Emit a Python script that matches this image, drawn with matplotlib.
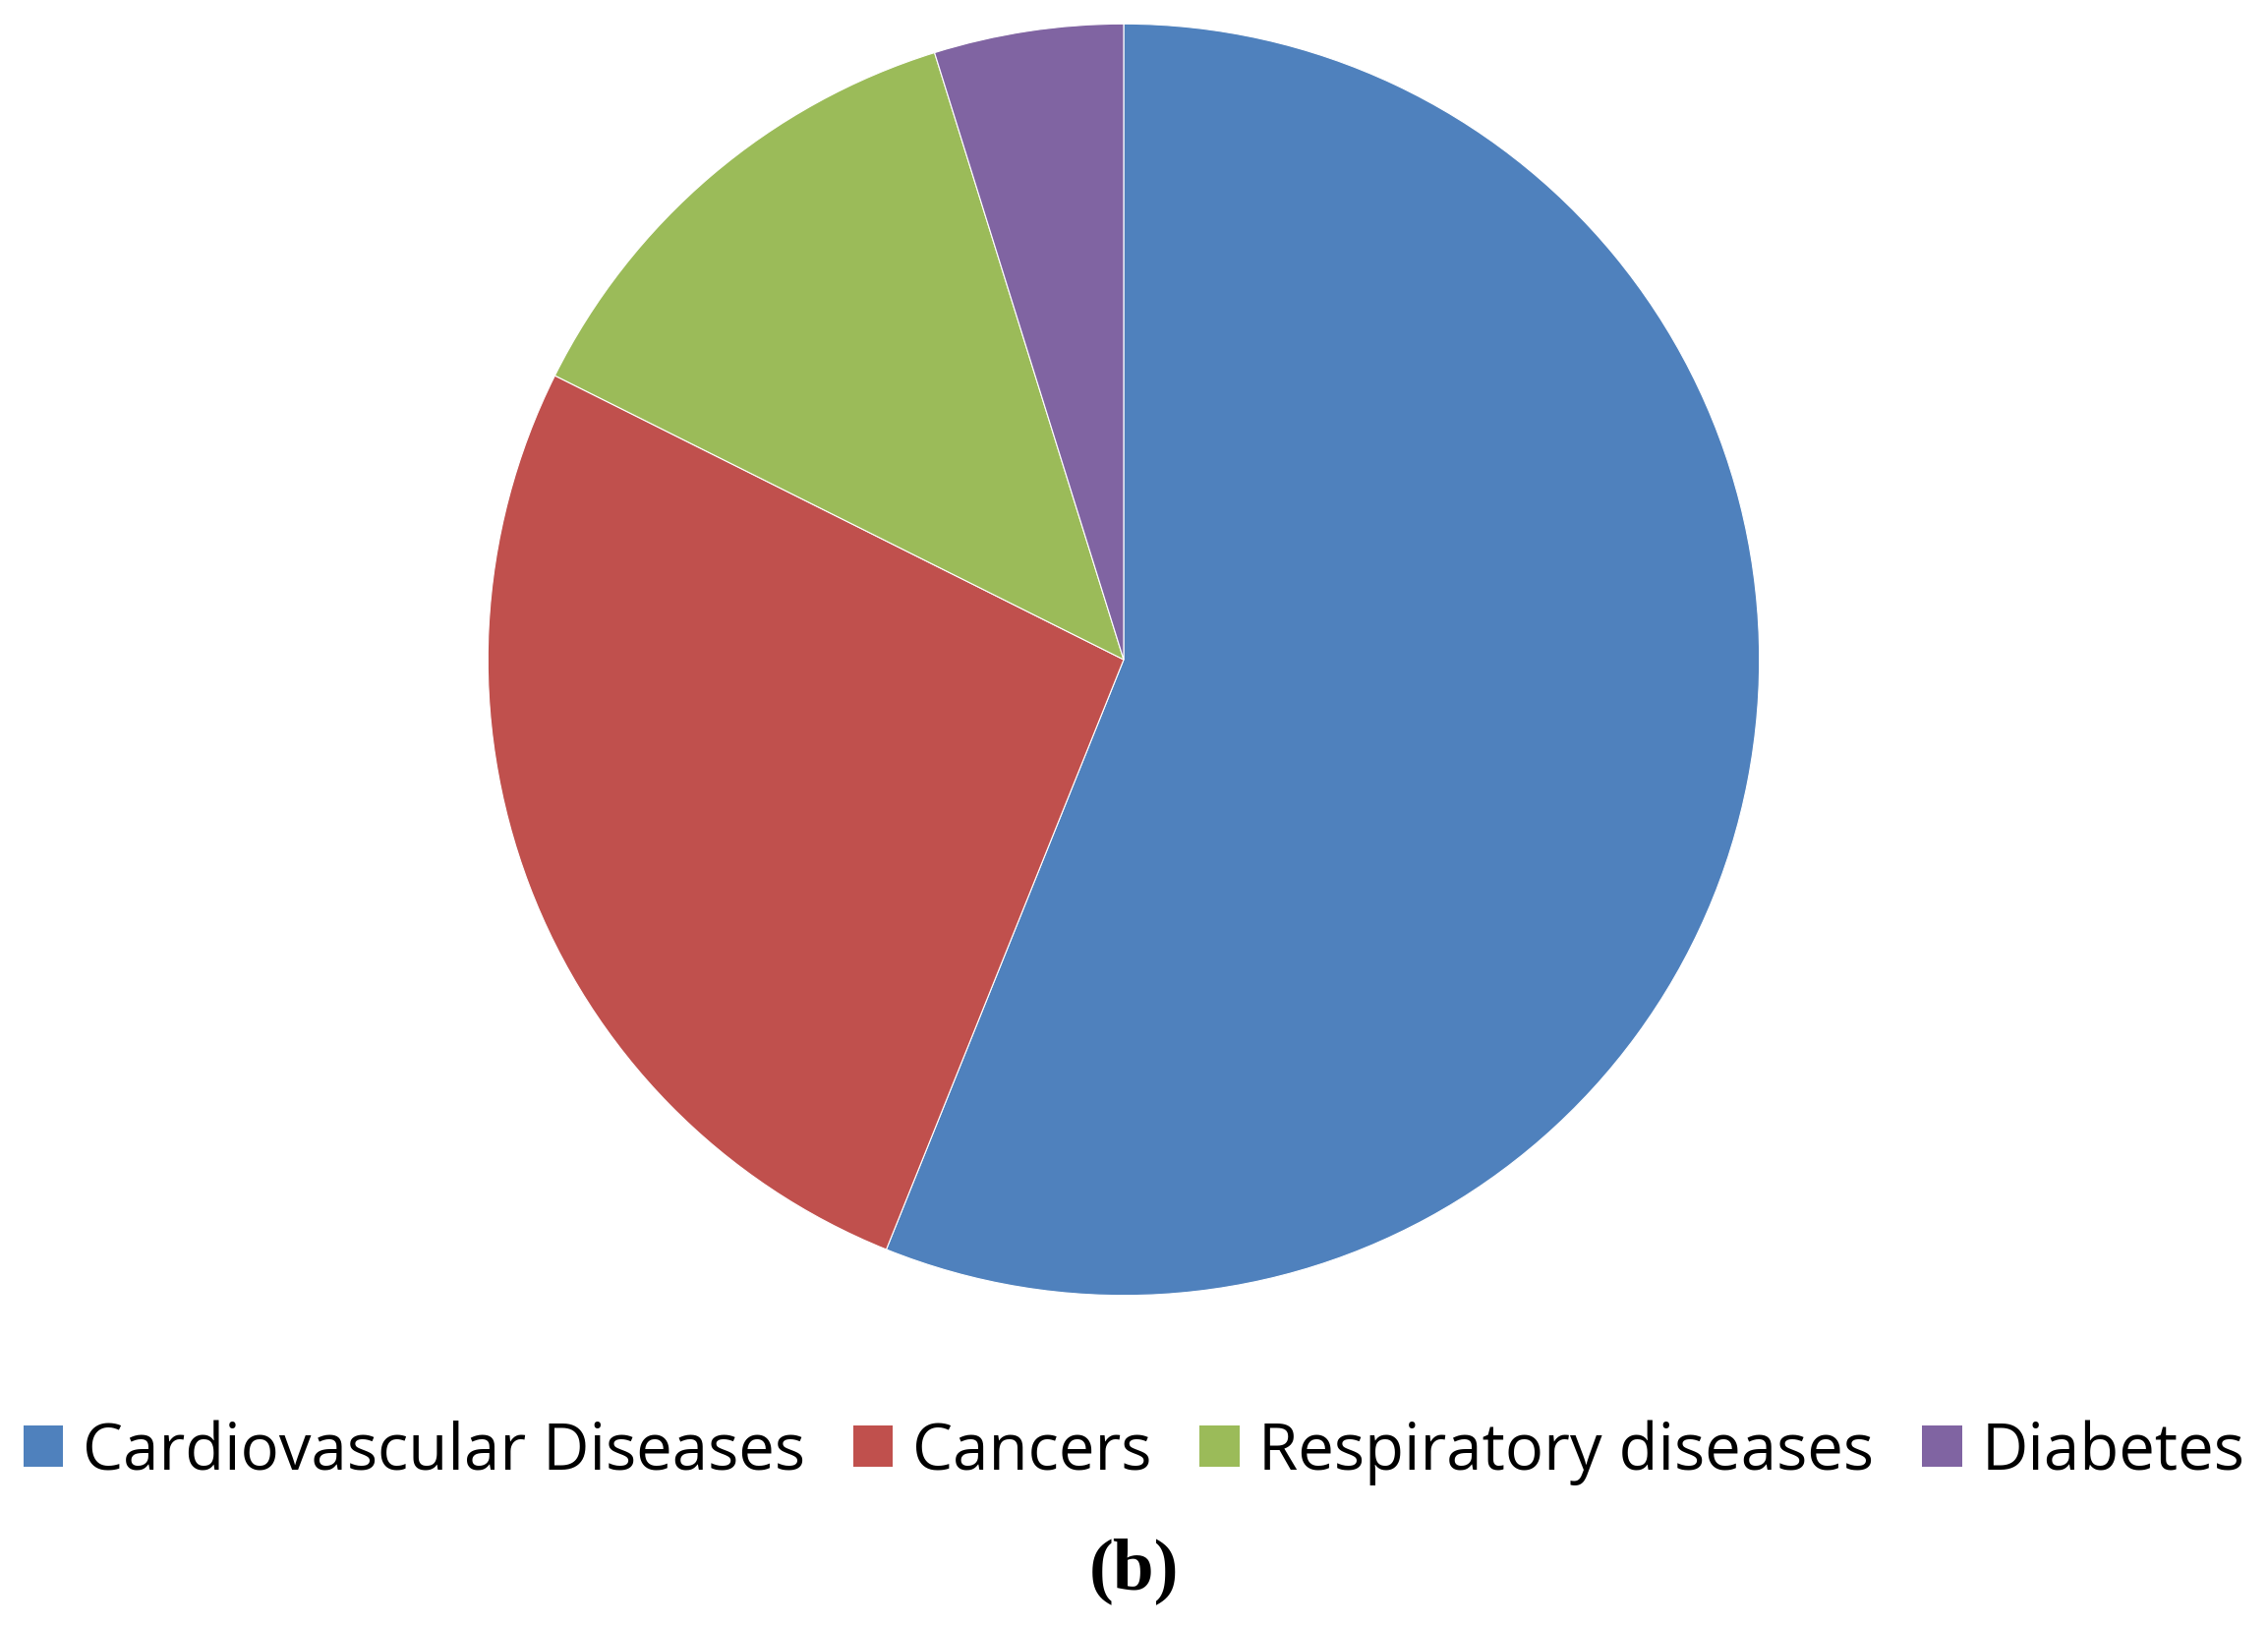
import matplotlib.pyplot as plt
from matplotlib.patches import Patch

labels = ['Cardiovascular Diseases', 'Cancers', 'Respiratory diseases', 'Diabetes']
deaths = [17.5, 8.2, 4.0, 1.5]
colors = ['#4F81BD', '#C0504D', '#9BBB59', '#8064A2']


def main():
	W, H = 2307, 1656
	fig = plt.figure(figsize=(W / 100, H / 100), dpi=100)

	cx, cy, r = 1143, 672, 648
	ax = fig.add_axes([(cx - r) / W, (H - cy - r) / H, 2 * r / W, 2 * r / H])
	ax.pie(deaths, colors=colors, startangle=90, counterclock=False, radius=1,
		wedgeprops=dict(edgecolor='white', linewidth=0.8))
	ax.set_xlim(-1.002, 1.002)
	ax.set_ylim(-1.002, 1.002)
	ax.set_aspect('equal')
	ax.axis('off')

	handles = [Patch(facecolor=c, edgecolor='none') for c in colors]
	fig.legend(handles, labels, loc='center', bbox_to_anchor=(0.5, (H - 1478) / H),
		ncol=4, frameon=False, handlelength=0.62, handleheight=0.62,
		handletextpad=0.3, columnspacing=0.75,
		prop=dict(family='Open Sans', size=47))

	fig.text(0.5, (H - 1598) / H, '(b)', ha='center', va='center',
		family='Liberation Serif', fontweight='bold', fontsize=54)

	fig.savefig('out.png', dpi=100)


if __name__ == "__main__":
	main()
